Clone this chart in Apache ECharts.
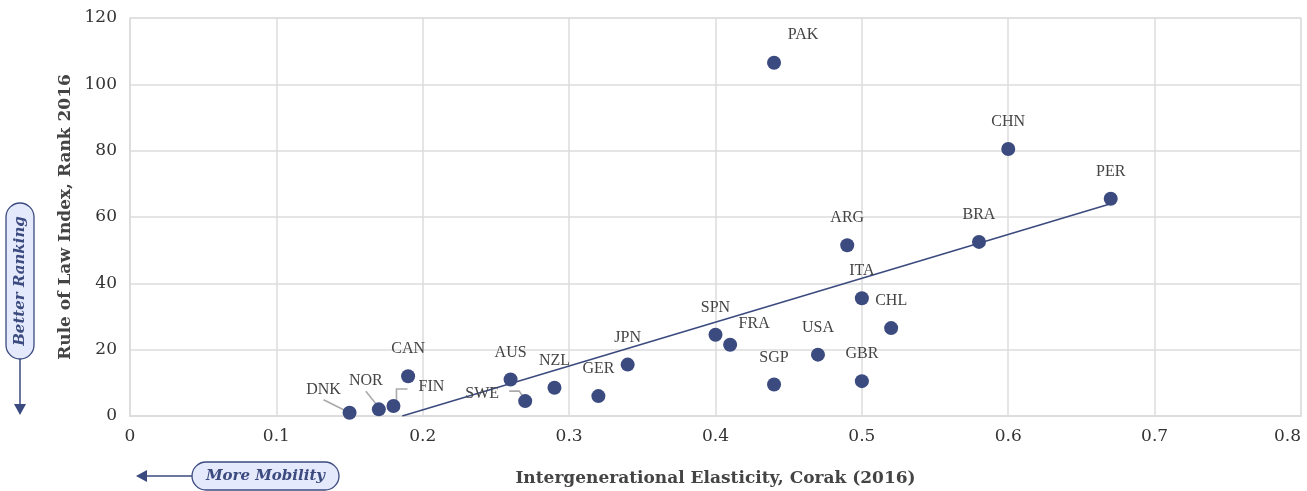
<!DOCTYPE html>
<html><head><meta charset="utf-8">
<script src="https://cdn.jsdelivr.net/npm/echarts@6/dist/echarts.min.js"></script>
<style>html,body{margin:0;padding:0;background:#fff}#c{width:1307px;height:491px}</style>
</head><body><div id="c"></div>
<script>
// Data
const countries = ['DNK','NOR','FIN','CAN','AUS','SWE','NZL','GER','JPN','SPN','FRA','SGP','USA','GBR','CHL','ITA','ARG','BRA','PER','CHN','PAK'];
const elasticity = [0.15,0.17,0.18,0.19,0.26,0.27,0.29,0.32,0.34,0.40,0.41,0.44,0.47,0.50,0.52,0.50,0.49,0.58,0.67,0.60,0.44];
const lawRank =    [1,   2,   3,   12,  11,  4.5, 8.5, 6,   15.5,24.5,21.5,9.5, 18.5,10.5,26.5,35.5,51.5,52.5,65.5,80.5,106.5];
const trendX = [0.186, 0.67];
const trendY = [0, 64];
const xTicks = ['0','0.1','0.2','0.3','0.4','0.5','0.6','0.7','0.8'];
const yTicks = ['0','20','40','60','80','100','120'];

// label placement tweaks (styling only, pixel offsets)
const labelShift = {DNK:[-26,4], NOR:[-13,-2], FIN:[38,8], SWE:[-43,20], FRA:[24,6], PAK:[29,-1]};
// leader line shapes, pixel offsets from the dot centre (styling only)
const leaderShape = {
  DNK:[[-26,-13],[-4,-2]],
  NOR:[[-13,-18],[-1,-3]],
  FIN:[[3,-4],[3,-17],[14,-17]],
  SWE:[[-16,-10],[-6,-10],[0,-1]]
};

const navy = '#3b4a7f';
const serif = 'DejaVu Serif';
const chart = echarts.init(document.getElementById('c'));
const pts = countries.map((c,i)=>({value:[elasticity[i], lawRank[i]], name:c}));
const leaderIdx = countries.map((c,i)=>i).filter(i=>leaderShape[countries[i]]);
chart.setOption({
  animation:false,
  grid:{left:130, right:6, top:18, bottom:75, show:true, borderColor:'#ddd', borderWidth:1, outerBoundsMode:'none', containLabel:false},
  xAxis:{type:'value', min:0, max:0.8, interval:0.1,
    axisLine:{show:true, lineStyle:{color:'#ddd', width:2}}, axisTick:{show:false},
    splitLine:{lineStyle:{color:'#ddd', width:1.5}},
    axisLabel:{color:'#333', fontFamily:serif, fontSize:17, margin:12, alignMaxLabel:'right',
      formatter:(v)=>xTicks[Math.round(v*10)]},
    name:'Intergenerational Elasticity, Corak (2016)', nameLocation:'middle', nameGap:54,
    nameTextStyle:{fontFamily:serif, fontWeight:'bold', fontSize:17, color:'#444'}},
  yAxis:{type:'value', min:0, max:120, interval:20,
    axisLine:{show:true, lineStyle:{color:'#ddd', width:1.5}}, axisTick:{show:false},
    splitLine:{lineStyle:{color:'#ddd', width:1.5}},
    axisLabel:{color:'#333', fontFamily:serif, fontSize:17, margin:13,
      formatter:(v)=>yTicks[Math.round(v/20)]},
    name:'Rule of Law Index, Rank 2016', nameLocation:'middle', nameGap:56,
    nameTextStyle:{fontFamily:serif, fontWeight:'bold', fontSize:17, color:'#444'}},
  series:[
    {type:'line', data:trendX.map((x,i)=>[x,trendY[i]]), symbol:'none',
      lineStyle:{color:navy, width:1.6}, z:2, silent:true},
    {type:'custom', silent:true, z:2,
      data:leaderIdx.map(i=>[elasticity[i], lawRank[i], i]),
      renderItem:(params, api)=>{
        const c = api.coord([api.value(0), api.value(1)]);
        const shape = leaderShape[countries[api.value(2)]];
        return {type:'polyline', shape:{points:shape.map(o=>[c[0]+o[0], c[1]+o[1]])},
          style:{stroke:'#aaa', lineWidth:1.6, fill:null}};
      }},
    {type:'scatter', data:pts, symbolSize:14, itemStyle:{color:navy, opacity:1}, z:3,
      label:{show:true, position:'top', distance:12, formatter:(p)=>p.name,
        fontFamily:'Liberation Serif', fontSize:16, color:'#444'},
      labelLayout:(p)=>{const s=labelShift[countries[p.dataIndex]]; return s?{dx:s[0],dy:s[1]}:{};}
    }
  ],
  graphic:[
    {type:'line', shape:{x1:20,y1:358,x2:20,y2:404}, style:{stroke:navy, lineWidth:1.5}},
    {type:'polygon', shape:{points:[[14,404],[26,404],[20,415]]}, style:{fill:navy}},
    {type:'rect', shape:{x:6,y:203,width:28,height:156,r:14}, style:{fill:'#e4e9fb', stroke:navy, lineWidth:1.3}},
    {type:'text', x:20, y:281, rotation:Math.PI/2,
      style:{text:'Better Ranking', fill:navy, font:'italic bold 15px "DejaVu Serif"', align:'center', verticalAlign:'middle'}},
    {type:'line', shape:{x1:193,y1:476,x2:147,y2:476}, style:{stroke:navy, lineWidth:1.5}},
    {type:'polygon', shape:{points:[[147,470],[147,482],[136,476]]}, style:{fill:navy}},
    {type:'rect', shape:{x:192,y:462,width:147,height:28,r:14}, style:{fill:'#e4e9fb', stroke:navy, lineWidth:1.3}},
    {type:'text', x:265.5, y:476,
      style:{text:'More Mobility', fill:navy, font:'italic bold 15px "DejaVu Serif"', align:'center', verticalAlign:'middle'}}
  ]
});
</script></body></html>
